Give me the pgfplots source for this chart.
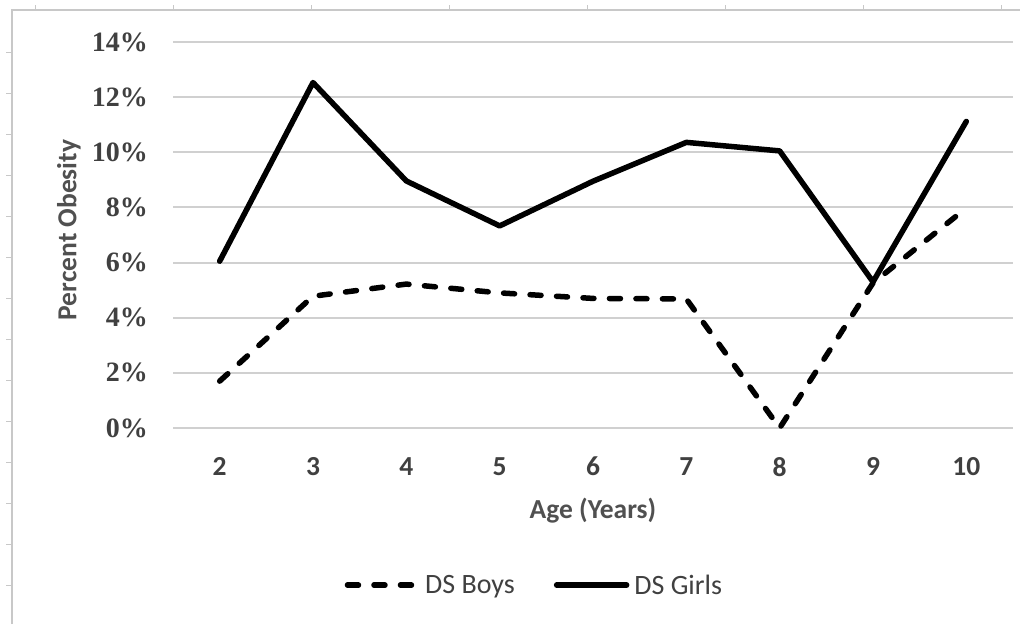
\documentclass[border=0pt]{standalone}
\usepackage{fontspec}
\setmainfont{Liberation Serif}
\newfontfamily\calibri{Carlito}
\usepackage{pgfplots}
\pgfplotsset{compat=1.18}
\definecolor{txt}{HTML}{404040}
\definecolor{lbl}{HTML}{505050}
\definecolor{gridc}{HTML}{D0D0D0}
\definecolor{framec}{HTML}{C8C8C8}

\begin{document}
\begin{tikzpicture}
\useasboundingbox (0pt,0pt) rectangle (1020pt,-624pt);
% page frame
\draw[framec, line width=2pt] (12pt,-624pt) -- (12pt,-10pt) -- (1020pt,-10pt);
\foreach \y in {52,93,...,624} \draw[framec,line width=1pt] (6pt,-\y pt) -- (12pt,-\y pt);
\foreach \x in {35,173,...,1020} \draw[framec,line width=1pt] (\x pt,-10pt) -- (\x pt,-5pt);
\begin{axis}[
  at={(173pt,-428pt)}, anchor=south west,
  width=840pt, height=386pt, scale only axis,
  xmin=1.5, xmax=10.5, ymin=0, ymax=14,
  clip=false,
  /pgf/number format/assume math mode=true,
  axis line style={draw=none},
  tick style={draw=none},
  major tick length=0pt,
  ytick={0,2,...,14},
  yticklabel={\pgfmathprintnumber{\tick}\%},
  yticklabel style={font=\fontsize{28}{30}\selectfont\bfseries, text=txt, anchor=east, inner sep=0pt, xshift=-25pt},
  xtick={2,...,10},
  xticklabel style={font=\calibri\fontsize{27.5}{30}\selectfont\bfseries, text=txt, anchor=north, inner sep=0pt, yshift=-29pt},
  ymajorgrids,
  major grid style={color=gridc, line width=2pt},
  xlabel={Age (Years)},
  ylabel={Percent Obesity},
  xlabel style={font=\calibri\fontsize{27.5}{30}\selectfont\bfseries, text=lbl, at={(axis description cs:0.5,-0.18)}, anchor=north, inner sep=0pt},
  ylabel style={font=\calibri\fontsize{27.5}{30}\selectfont\bfseries, text=lbl, at={(axis description cs:-0.1381,0.513)}, anchor=north, inner sep=0pt},
  legend columns=2,
  legend style={at={(axis description cs:0.432,-0.407)}, anchor=center, draw=none, fill=none,
    font=\calibri\fontsize{28}{30}\selectfont, text=txt,
    /tikz/every even column/.append style={column sep=34pt},
    nodes={inner sep=5pt}},
  legend image code/.code={\draw[#1, line cap=round] (0pt,0pt) -- (70pt,0pt);},
]
\addplot[black, line width=5.5pt, line cap=round, line join=round, dash pattern=on 11pt off 15.5pt] coordinates {
  (2,1.70) (3,4.78) (4,5.22) (5,4.90) (6,4.70) (7,4.68) (8,0.0) (9,5.26) (10,7.98)
};
\addlegendentry{DS Boys}
\addplot[black, line width=5.5pt, line cap=round, line join=round] coordinates {
  (2,6.05) (3,12.53) (4,8.96) (5,7.33) (6,8.95) (7,10.36) (8,10.05) (9,5.30) (10,11.12)
};
\addlegendentry{DS Girls}
\end{axis}
\end{tikzpicture}
\end{document}
